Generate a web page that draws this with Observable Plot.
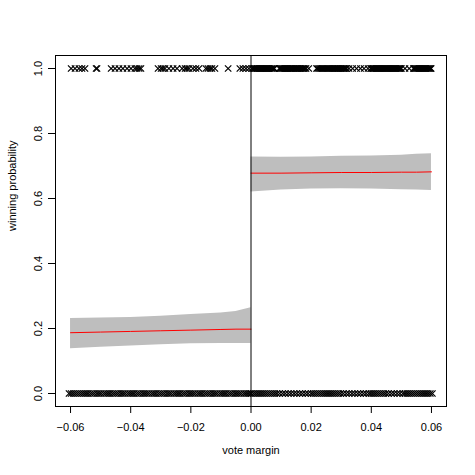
<!DOCTYPE html>
<html><head><meta charset="utf-8">
<script src="https://cdn.jsdelivr.net/npm/d3@7"></script>
<script src="https://cdn.jsdelivr.net/npm/@observablehq/plot@0.6"></script>
<style>body{margin:0;background:#fff}</style>
</head><body><div id="chart"></div>
<script>
// Observations: vote margin where outcome = 1 (won) and = 0 (lost)
const winLeft = [-0.0598, -0.0585, -0.0572, -0.0562, -0.0552, -0.0515, -0.0512, -0.0465, -0.0452, -0.0439,
  -0.0426, -0.0412, -0.0399, -0.0386, -0.0379, -0.0372, -0.0366, -0.0309, -0.0299, -0.0293, -0.0286, -0.0273,
  -0.0259, -0.0246, -0.0229, -0.0219, -0.0213, -0.0206, -0.0193, -0.0183, -0.0173, -0.0150, -0.0143, -0.0136,
  -0.0130, -0.0120, -0.0076, -0.0037, -0.0027, -0.0017, -0.0007];
const winRight = [0.0003, 0.0007, 0.0010, 0.0013, 0.0016, 0.0019, 0.0022, 0.0026, 0.0029, 0.0032, 0.0035, 0.0038,
  0.0041, 0.0044, 0.0047, 0.0050, 0.0052, 0.0055, 0.0058, 0.0061, 0.0064, 0.0068, 0.0071, 0.0075, 0.0078,
  0.0094, 0.0097, 0.0100, 0.0103, 0.0106, 0.0109, 0.0112, 0.0115, 0.0118, 0.0121, 0.0124, 0.0128, 0.0131,
  0.0134, 0.0137, 0.0140, 0.0143, 0.0147, 0.0150, 0.0153, 0.0156, 0.0160, 0.0163, 0.0167, 0.0170, 0.0173,
  0.0176, 0.0180, 0.0183, 0.0192, 0.0218, 0.0222, 0.0226, 0.0230, 0.0234, 0.0238, 0.0242, 0.0246, 0.0250,
  0.0254, 0.0258, 0.0262, 0.0266, 0.0270, 0.0273, 0.0277, 0.0280, 0.0284, 0.0287, 0.0290, 0.0293, 0.0297,
  0.0300, 0.0303, 0.0306, 0.0309, 0.0312, 0.0315, 0.0318, 0.0326, 0.0338, 0.0351, 0.0364, 0.0376, 0.0389,
  0.0398, 0.0401, 0.0404, 0.0407, 0.0410, 0.0413, 0.0416, 0.0419, 0.0422, 0.0425, 0.0428, 0.0431, 0.0434,
  0.0437, 0.0440, 0.0443, 0.0446, 0.0449, 0.0452, 0.0455, 0.0458, 0.0461, 0.0464, 0.0467, 0.0470, 0.0473,
  0.0476, 0.0479, 0.0482, 0.0485, 0.0488, 0.0491, 0.0494, 0.0497, 0.0500, 0.0512, 0.0526, 0.0540, 0.0543,
  0.0546, 0.0549, 0.0552, 0.0555, 0.0558, 0.0561, 0.0564, 0.0567, 0.0570, 0.0573, 0.0576, 0.0579, 0.0582,
  0.0585, 0.0588, 0.0591, 0.0594, 0.0597, 0.0599];
const loseLeft = [-0.0605, -0.0598, -0.0591, -0.0584, -0.0577, -0.0570, -0.0563, -0.0556, -0.0549, -0.0542,
  -0.0534, -0.0527, -0.0520, -0.0512, -0.0505, -0.0498, -0.0490, -0.0483, -0.0476, -0.0469, -0.0461, -0.0454,
  -0.0447, -0.0440, -0.0432, -0.0425, -0.0418, -0.0410, -0.0403, -0.0396, -0.0389, -0.0381, -0.0374, -0.0367,
  -0.0359, -0.0352, -0.0345, -0.0338, -0.0330, -0.0323, -0.0316, -0.0308, -0.0301, -0.0294, -0.0287, -0.0279,
  -0.0272, -0.0265, -0.0257, -0.0250, -0.0243, -0.0236, -0.0228, -0.0221, -0.0214, -0.0206, -0.0199, -0.0192,
  -0.0185, -0.0177, -0.0170, -0.0163, -0.0155, -0.0148, -0.0141, -0.0134, -0.0126, -0.0119, -0.0112, -0.0104,
  -0.0097, -0.0090, -0.0083, -0.0075, -0.0068, -0.0061, -0.0053, -0.0046, -0.0039, -0.0032, -0.0024, -0.0017,
  -0.0010, -0.0003];
const loseRight = [0.0002, 0.0009, 0.0016, 0.0023, 0.0030, 0.0037, 0.0044, 0.0051, 0.0058, 0.0065, 0.0072, 0.0079,
  0.0086, 0.0095, 0.0105, 0.0114, 0.0124, 0.0133, 0.0143, 0.0152, 0.0162, 0.0171, 0.0181, 0.0190, 0.0200, 0.0207,
  0.0214, 0.0221, 0.0228, 0.0235, 0.0242, 0.0249, 0.0256, 0.0263, 0.0270, 0.0277, 0.0284, 0.0291, 0.0298, 0.0307,
  0.0317, 0.0326, 0.0336, 0.0345, 0.0355, 0.0364, 0.0374, 0.0383, 0.0392, 0.0399, 0.0406, 0.0413, 0.0420, 0.0427,
  0.0434, 0.0441, 0.0448, 0.0457, 0.0467, 0.0476, 0.0486, 0.0495, 0.0505, 0.0512, 0.0519, 0.0526, 0.0533, 0.0540,
  0.0547, 0.0554, 0.0561, 0.0568, 0.0575, 0.0582, 0.0589, 0.0596, 0.0603];

// Fitted probability and confidence band, left of cutoff
const leftX   = [-0.06, -0.05, -0.04, -0.03, -0.02, -0.01, -0.005, 0];
const leftFit = [0.187, 0.189, 0.191, 0.193, 0.195, 0.197, 0.198, 0.198];
const leftLo  = [0.138, 0.142, 0.146, 0.150, 0.153, 0.154, 0.154, 0.154];
const leftHi  = [0.231, 0.232, 0.234, 0.238, 0.243, 0.248, 0.252, 0.264];
// Right of cutoff
const rightX   = [0, 0.01, 0.02, 0.03, 0.04, 0.05, 0.055, 0.06];
const rightFit = [0.678, 0.678, 0.679, 0.680, 0.680, 0.681, 0.681, 0.682];
const rightLo  = [0.620, 0.626, 0.629, 0.630, 0.629, 0.627, 0.626, 0.625];
const rightHi  = [0.728, 0.727, 0.728, 0.730, 0.731, 0.733, 0.736, 0.738];

const xTicks = [-0.06, -0.04, -0.02, 0, 0.02, 0.04, 0.06];
const yTicks = [0, 0.2, 0.4, 0.6, 0.8, 1.0];

const points = [
  ...winLeft.map(x => ({x, y: 1})), ...winRight.map(x => ({x, y: 1})),
  ...loseLeft.map(x => ({x, y: 0})), ...loseRight.map(x => ({x, y: 0}))
];
const band = (xs, fit, lo, hi) => xs.map((x, i) => ({x, fit: fit[i], lo: lo[i], hi: hi[i]}));
const leftBand = band(leftX, leftFit, leftLo, leftHi);
const rightBand = band(rightX, rightFit, rightLo, rightHi);

const chart = Plot.plot({
  width: 475, height: 475,
  marginLeft: 55, marginRight: 29, marginTop: 55, marginBottom: 69,
  style: {fontFamily: "'Liberation Sans', Arial, sans-serif", fontSize: "11px", background: "#fff", color: "#000"},
  x: {domain: [-0.065, 0.065]},
  y: {domain: [-0.04, 1.04]},
  marks: [
    Plot.dot(points, {x: "x", y: "y", symbol: "times", r: 3, stroke: "#000", strokeWidth: 1.2}),
    Plot.areaY(leftBand, {x: "x", y1: "lo", y2: "hi", fill: "#bebebe"}),
    Plot.areaY(rightBand, {x: "x", y1: "lo", y2: "hi", fill: "#bebebe"}),
    Plot.line(leftBand, {x: "x", y: "fit", stroke: "#ff0000", strokeWidth: 1}),
    Plot.line(rightBand, {x: "x", y: "fit", stroke: "#ff0000", strokeWidth: 1}),
    Plot.ruleX([0], {stroke: "#000", strokeWidth: 1}),
    Plot.frame({stroke: "#000", strokeWidth: 1}),
    Plot.axisX({ticks: xTicks, tickFormat: d3.format(".2f"), tickSize: 7, tickPadding: 10, label: null}),
    Plot.axisY({ticks: yTicks, tickFormat: d3.format(".1f"), tickSize: 7, tickPadding: 7, tickRotate: -90, label: null}),
    Plot.text(["vote margin"], {frameAnchor: "bottom", dy: 47, fontSize: 11}),
    Plot.text(["winning probability"], {frameAnchor: "left", dx: -43, rotate: -90, fontSize: 11})
  ]
});
document.getElementById("chart").append(chart);
</script>
</body></html>
